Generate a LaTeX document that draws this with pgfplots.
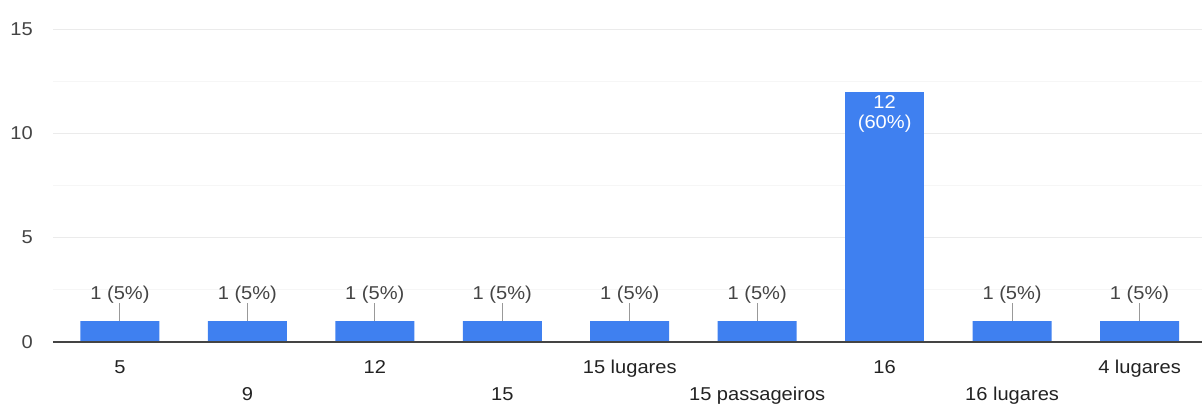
\documentclass[border=0pt]{standalone}
\usepackage{pgfplots}
\pgfplotsset{compat=1.18}
\usepackage{fontspec}
\setmainfont[FakeStretch=1.08]{Liberation Sans}
\definecolor{barblue}{HTML}{3F80F0}
\definecolor{gridc}{HTML}{EBEBEB}
\definecolor{minorgridc}{HTML}{F6F6F6}
\definecolor{txt}{HTML}{444444}
\definecolor{xtxt}{HTML}{222222}
\definecolor{connc}{HTML}{999999}
\definecolor{axisc}{HTML}{444444}
\begin{document}
\begin{tikzpicture}[font=\fontsize{18.6}{20}\selectfont]
\begin{axis}[
  at={(0,0)}, anchor=south west,
  scale only axis, width=1149pt, height=313pt,
  xmin=-0.525, xmax=8.49, ymin=0, ymax=15,
  axis line style={draw=none},
  ytick={0,5,10,15}, minor ytick={2.5,7.5,12.5},
  ymajorgrids, yminorgrids,
  major grid style={gridc, line width=1pt},
  minor grid style={minorgridc, line width=1pt},
  tick style={draw=none},
  /pgf/number format/assume math mode=true,
  yticklabel style={text=txt, inner sep=0pt, anchor=east, xshift=-20pt},
  xtick={0,...,8},
  xticklabels={5,9,12,15,15 lugares,15 passageiros,16,16 lugares,4 lugares},
  xticklabel style={text=xtxt, inner sep=0pt, anchor=north, yshift={-18pt-mod(\ticknum,2)*27pt}},
  clip=false,
]
% connectors from bar top to label
\addplot[draw=none, mark=none, forget plot,
  error bars/.cd, y dir=plus, y explicit, error mark=none,
  error bar style={draw=connc, line width=0.9pt}]
  coordinates {(0,1) +- (0,0.85) (1,1) +- (0,0.85) (2,1) +- (0,0.85) (3,1) +- (0,0.85)
               (4,1) +- (0,0.85) (5,1) +- (0,0.85) (7,1) +- (0,0.85) (8,1) +- (0,0.85)};
% small bars
\addplot[ybar, bar width=79pt, bar shift=0pt, fill=barblue, draw=none,
  point meta=explicit symbolic, nodes near coords,
  every node near coord/.style={anchor=south, inner sep=0pt, yshift=18pt, text=txt}]
  coordinates {(0,1) [1 (5\%)] (1,1) [1 (5\%)] (2,1) [1 (5\%)] (3,1) [1 (5\%)]
               (4,1) [1 (5\%)] (5,1) [1 (5\%)] (7,1) [1 (5\%)] (8,1) [1 (5\%)]};
% large bar
\addplot[ybar, bar width=79pt, bar shift=0pt, fill=barblue, draw=none,
  nodes near coords={12\\(60\%)},
  every node near coord/.style={anchor=north, inner sep=0pt, yshift=-4pt, text=white, align=center}]
  coordinates {(6,12)};
\draw[color=axisc, line width=1.6pt] (rel axis cs:0,0) -- (rel axis cs:1,0);
\end{axis}
\pgfresetboundingbox
\path[use as bounding box] (-53pt,-63pt) rectangle (1149pt,342pt);
\end{tikzpicture}
\end{document}
